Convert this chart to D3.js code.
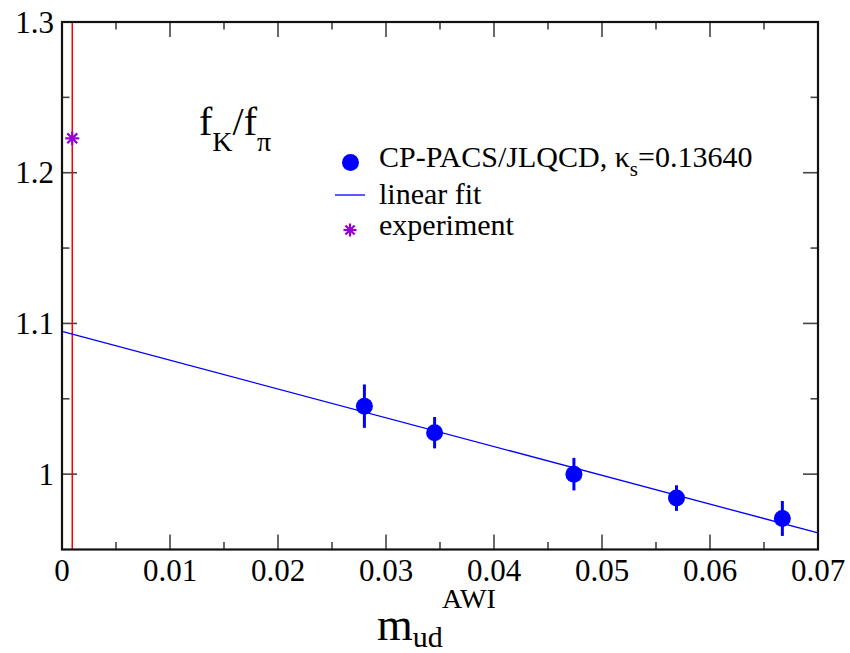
<!DOCTYPE html>
<html>
<head>
<meta charset="utf-8">
<script src="https://cdn.jsdelivr.net/npm/d3@7"></script>
<style>
  html, body { margin: 0; padding: 0; background: #fff; }
  svg { display: block; }
  text { font-family: "Liberation Serif", "DejaVu Serif", "Times New Roman", Times, serif; }
</style>
</head>
<body>
<svg id="chart" width="850" height="653"></svg>
<script>
// Lattice data: f_K/f_pi vs m_ud (AWI), CP-PACS/JLQCD, kappa_s = 0.13640
const mud = [0.0280, 0.0345, 0.0474, 0.0569, 0.0667];
const ratio = [1.0451, 1.0275, 1.0000, 0.9841, 0.9706];
const ratioErr = [0.0144, 0.0104, 0.0108, 0.0085, 0.0116];

// Linear fit parameters: ratio = fitA + fitB * mud
const fitA = 1.0947;
const fitB = -1.91;
const fitRange = [0, 0.07];

// Physical point and experimental value
const mudPhys = 0.00095;
const ratioExp = 1.2228;

// Axis ticks
const xMajor = [0, 0.01, 0.02, 0.03, 0.04, 0.05, 0.06, 0.07];
const xMinor = [0.005, 0.015, 0.025, 0.035, 0.045, 0.055, 0.065];
const yMajor = [1.0, 1.1, 1.2, 1.3];
const yMinor = [1.05, 1.15, 1.25];
const xLabels = ["0", "0.01", "0.02", "0.03", "0.04", "0.05", "0.06", "0.07"];
const yLabels = ["1", "1.1", "1.2", "1.3"];

const FONT = '"Liberation Serif", "DejaVu Serif", "Times New Roman", Times, serif';

const svg = d3.select("#chart");
const L = 62, R = 818, T = 22, B = 549.5;

const x = d3.scaleLinear().domain([0, 0.07]).range([L, R]);
const y = d3.scaleLinear().domain([0.95, 1.3]).range([B, T]);

const tickColor = "#444";
const majorLen = 15, minorLen = 7.5;

// Tick marks on all four sides, pointing inward
const ticks = svg.append("g").attr("stroke", tickColor).attr("stroke-width", 1.6);
function xTicks(vals, len) {
  vals.forEach(v => {
    ticks.append("line").attr("x1", x(v)).attr("x2", x(v)).attr("y1", B).attr("y2", B - len);
    ticks.append("line").attr("x1", x(v)).attr("x2", x(v)).attr("y1", T).attr("y2", T + len);
  });
}
function yTicks(vals, len) {
  vals.forEach(v => {
    ticks.append("line").attr("y1", y(v)).attr("y2", y(v)).attr("x1", L).attr("x2", L + len);
    ticks.append("line").attr("y1", y(v)).attr("y2", y(v)).attr("x1", R).attr("x2", R - len);
  });
}
xTicks(xMajor, majorLen);
xTicks(xMinor, minorLen);
yTicks(yMajor, majorLen);
yTicks(yMinor, minorLen);

// Tick labels
svg.append("g").attr("font-family", FONT).selectAll("text").data(xMajor).join("text")
  .attr("x", d => x(d)).attr("y", 581)
  .attr("text-anchor", "middle").attr("font-size", 31)
  .text((d, i) => xLabels[i]);
svg.append("g").attr("font-family", FONT).selectAll("text").data(yMajor).join("text")
  .attr("x", 54).attr("y", d => y(d) + 10.5)
  .attr("text-anchor", "end").attr("font-size", 31)
  .text((d, i) => yLabels[i]);

// Physical light-quark mass line
svg.append("line")
  .attr("x1", x(mudPhys)).attr("x2", x(mudPhys))
  .attr("y1", T).attr("y2", B)
  .attr("stroke", "#ff0000").attr("stroke-width", 1.5);

// Linear fit
svg.append("line")
  .attr("x1", x(fitRange[0])).attr("y1", y(fitA + fitB * fitRange[0]))
  .attr("x2", x(fitRange[1])).attr("y2", y(fitA + fitB * fitRange[1]))
  .attr("stroke", "#0000ff").attr("stroke-width", 1.3);

// Data points with error bars
const pts = d3.range(mud.length);
svg.append("g").selectAll("line").data(pts).join("line")
  .attr("x1", i => x(mud[i])).attr("x2", i => x(mud[i]))
  .attr("y1", i => y(ratio[i] - ratioErr[i])).attr("y2", i => y(ratio[i] + ratioErr[i]))
  .attr("stroke", "#0000ff").attr("stroke-width", 3);
svg.append("g").selectAll("circle").data(pts).join("circle")
  .attr("cx", i => x(mud[i])).attr("cy", i => y(ratio[i]))
  .attr("r", 8.5).attr("fill", "#0000ff");

// Asterisk marker
function star(g, cx, cy, r, color) {
  const d = r * Math.SQRT1_2;
  const segs = [[0, -r, 0, r], [-r, 0, r, 0], [-d, -d, d, d], [-d, d, d, -d]];
  segs.forEach(s => g.append("line")
    .attr("x1", cx + s[0]).attr("y1", cy + s[1]).attr("x2", cx + s[2]).attr("y2", cy + s[3])
    .attr("stroke", color).attr("stroke-width", 2.2));
}
star(svg.append("g"), x(mudPhys), y(ratioExp), 7, "#9400d3");

// Frame
svg.append("rect").attr("x", L).attr("y", T).attr("width", R - L).attr("height", B - T)
  .attr("fill", "none").attr("stroke", "#111").attr("stroke-width", 2.2);

// Legend
const lg = svg.append("g").attr("font-size", 30).attr("font-family", FONT);
lg.append("circle").attr("cx", 350.5).attr("cy", 162.5).attr("r", 8.5).attr("fill", "#0000ff");
const t1 = lg.append("text").attr("x", 379).attr("y", 167);
t1.append("tspan").text("CP-PACS/JLQCD, κ");
t1.append("tspan").attr("font-size", 21).attr("dy", 9).text("s");
t1.append("tspan").attr("dy", -9).text("=0.13640");
lg.append("line").attr("x1", 335).attr("x2", 365).attr("y1", 195).attr("y2", 195)
  .attr("stroke", "#0000ff").attr("stroke-width", 1.3);
lg.append("text").attr("x", 379).attr("y", 204).text("linear fit");
star(lg, 350, 230, 6.5, "#9400d3");
lg.append("text").attr("x", 379).attr("y", 235).text("experiment");

// Title f_K / f_pi
const title = svg.append("text").attr("font-family", FONT)
  .attr("x", 199).attr("y", 135).attr("font-size", 40);
title.append("tspan").text("f");
title.append("tspan").attr("font-size", 28).attr("dy", 16).text("K");
title.append("tspan").attr("dy", -16).text("/f");
title.append("tspan").attr("font-size", 28).attr("dy", 16).text("π");

// X axis label m_ud^AWI
const xl = svg.append("text").attr("font-family", FONT)
  .attr("x", 377).attr("y", 640).attr("font-size", 46);
xl.append("tspan").text("m");
xl.append("tspan").attr("font-size", 30).attr("dy", 7).text("ud");
svg.append("text").attr("font-family", FONT)
  .attr("x", 442).attr("y", 608).attr("font-size", 28).text("AWI");
</script>
</body>
</html>
